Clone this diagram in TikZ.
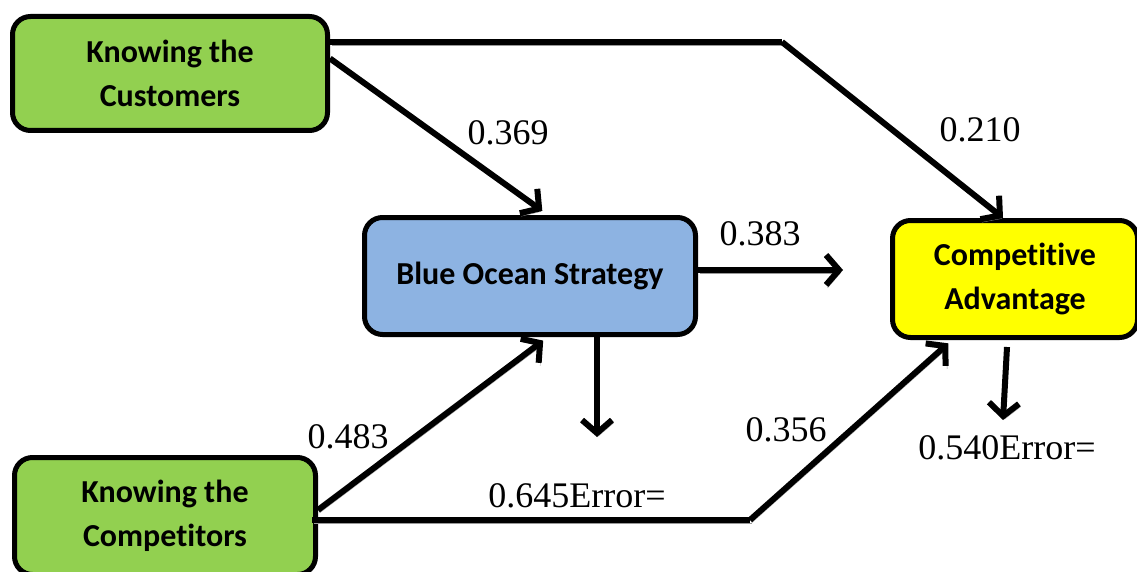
\documentclass[tikz,border=0pt]{standalone}
\usepackage{fontspec}
\setmainfont{Liberation Serif}
\newfontfamily\boxfont[RawFeature=-liga]{Carlito}
\usetikzlibrary{arrows.meta}
\definecolor{kgreen}{HTML}{92D050}
\definecolor{oblue}{HTML}{8DB3E2}
\definecolor{cyellow}{HTML}{FFFF00}
\tikzset{
    factor/.style={draw=black, line width=5pt, rounded corners=18pt, align=center, inner sep=0pt,
        font=\boxfont\bfseries\fontsize{32}{44}\selectfont},
    link/.style={line width=6pt, -{Straight Barb[length=13pt,width=30pt]},
        preaction={draw=black!40, transform canvas={xshift=1.5pt, yshift=-3pt}}},
    linkplain/.style={line width=6pt,
        preaction={draw=black!40, transform canvas={xshift=1.5pt, yshift=-3pt}}},
    coef/.style={inner sep=0pt, font=\fontsize{36}{40}\selectfont}
}
\begin{document}
\begin{tikzpicture}[x=1pt, y=-1pt]
                \useasboundingbox (0,0) rectangle (1137,572);
                \clip (0,0) rectangle (1137,572);

                \node [factor, fill=kgreen, minimum width=315pt, minimum height=114pt] (KC) at (170,73.5) {Knowing the\\Customers};
                \node [factor, fill=oblue, minimum width=331pt, minimum height=117pt] (BOS) at (530,276) {Blue Ocean Strategy};
                \node [factor, fill=cyellow, minimum width=245pt, minimum height=117pt] (CA) at (1015,279) {Competitive\\Advantage};
                \node [factor, fill=kgreen, minimum width=301pt, minimum height=117pt] (KP) at (165,516) {Knowing the\\Competitors};

                \coordinate (KCbend) at (782,42);
                \coordinate (KPbend) at (750,520);
                \coordinate (BOSout) at (843,270);
                \coordinate (BOSerr) at (597,437);
                \coordinate (CAerr) at (1003,420);

                \draw[linkplain] (KC.east |- KCbend) -- (KCbend);
                \draw[link] (KCbend) -- ([xshift=-12pt]CA.north);
                \draw[link, shorten >=7pt] ([yshift=15pt]KC.east) -- ([xshift=18pt]BOS.north);
                \draw[link] (BOS.east |- BOSout) -- (BOSout);
                \draw[link] ([xshift=67pt]BOS.south) -- (BOSerr);
                \draw[link, shorten >=6pt] ([yshift=6pt]KP.east) -- ([xshift=18pt]BOS.south);
                \draw[linkplain] ([xshift=-6pt]KP.east |- KPbend) -- (KPbend);
                \draw[link, shorten >=5pt] (KPbend) -- ([xshift=-63pt]CA.south);
                \draw[link] ([xshift=-8pt,yshift=-7pt]CA.south) -- (CAerr);

                \node [coef] (c369) at (508,133) {0.369};
                \node [coef] (c210) at (980,130) {0.210};
                \node [coef] (c383) at (760,234) {0.383};
                \node [coef] (c483) at (348,437) {0.483};
                \node [coef] (c356) at (786,430) {0.356};
                \node [coef] (e645) at (577,496) {0.645Error=};
                \node [coef] (e540) at (1007,448) {0.540Error=};
            \end{tikzpicture}
\end{document}
